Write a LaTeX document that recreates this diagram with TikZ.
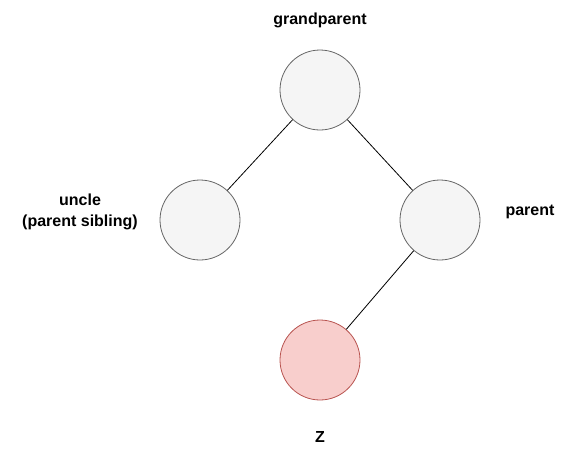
\documentclass[tikz,border=0pt]{standalone}
\usepackage{fontspec}
\setmainfont{Liberation Sans}
\begin{document}
\begin{tikzpicture}[x=1pt, y=-1pt, line width=0.8pt]%
    \useasboundingbox (0, 0) rectangle (565, 456);
    \tikzset{
      treenode/.style={circle, draw=black!60, fill=black!4, minimum size=80pt, inner sep=0pt},
      newnode/.style={treenode, draw={rgb,255:red,184;green,84;blue,80}, fill={rgb,255:red,248;green,206;blue,204}},
      tag/.style={font=\bfseries\fontsize{16}{21}\selectfont, align=center}
    }
    \node[treenode] (gp) at (320, 90) {};
    \node[treenode] (uncle) at (200, 220) {};
    \node[treenode] (parent) at (440, 220) {};
    \node[newnode] (z) at (320, 360) {};

    \node[tag] (gplabel) at (320, 20) {grandparent};
    \node[tag] (unclelabel) at (80, 212) {uncle\\(parent sibling)};
    \node[tag] (parentlabel) at (530, 212) {parent};
    \node[tag] (zlabel) at (320, 437) {Z};

    \draw (gp) -- (uncle);
    \draw (gp) -- (parent);
    \draw (parent) -- (z);
  \end{tikzpicture}
\end{document}
